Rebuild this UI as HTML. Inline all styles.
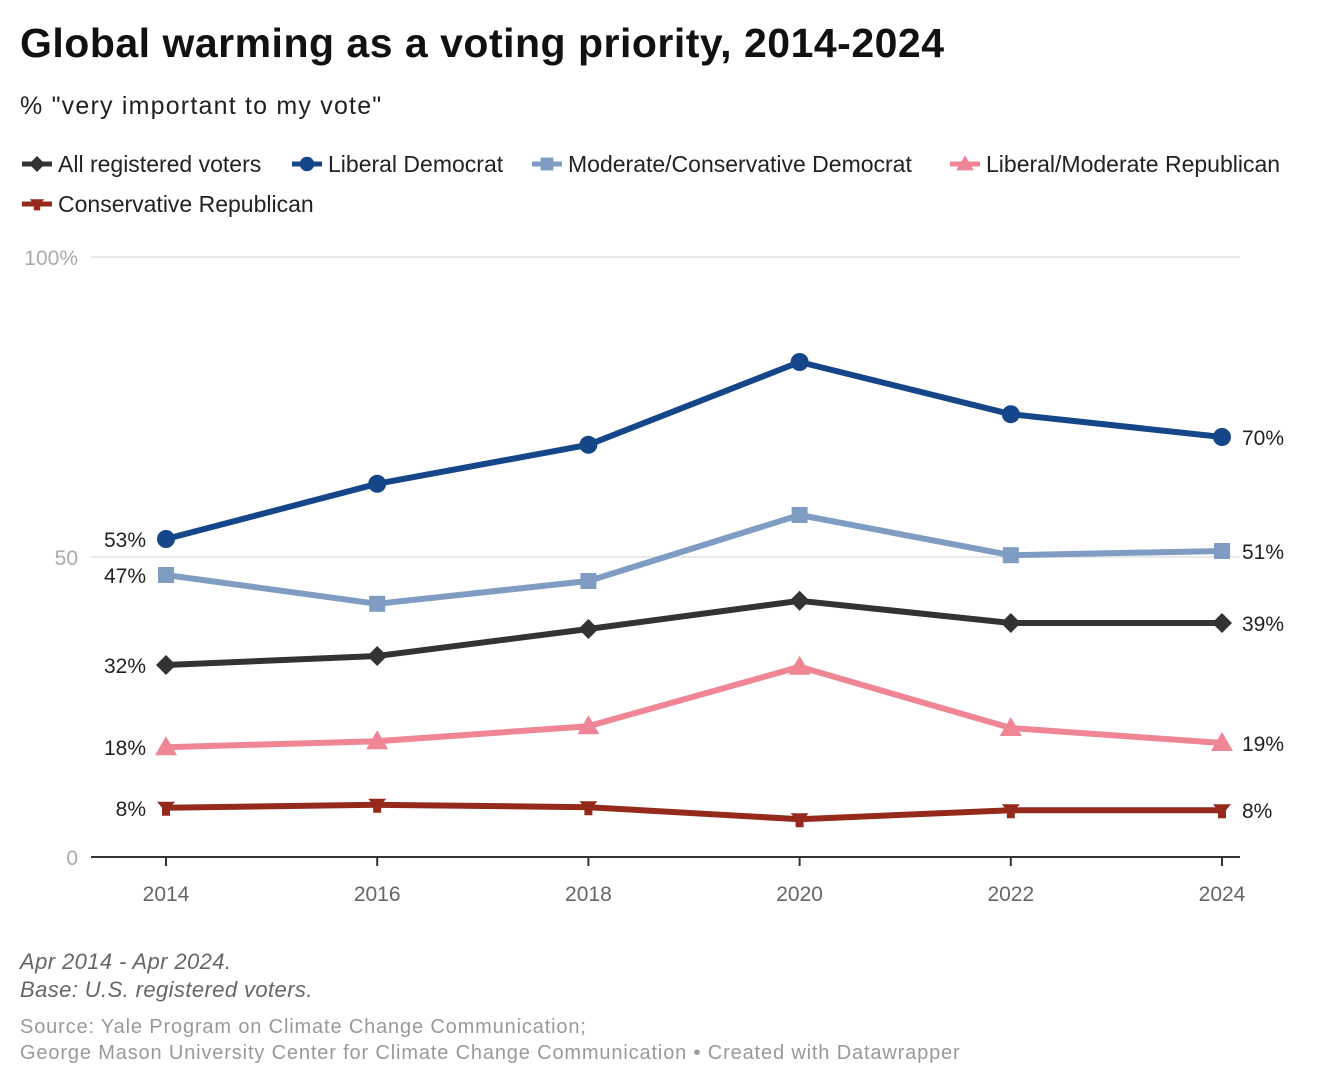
<!DOCTYPE html>
<html><head><meta charset="utf-8"><style>
body{margin:0;background:#fff;width:1340px;height:1086px;overflow:hidden;font-family:"Liberation Sans",sans-serif;}
.t{position:absolute;white-space:nowrap}
</style></head><body>
<div class="t" style="left:20px;top:20px;font-size:41px;font-weight:bold;color:#111;letter-spacing:0.5px">Global warming as a voting priority, 2014-2024</div>
<div class="t" style="left:20px;top:92px;font-size:25px;color:#222;letter-spacing:1.2px">% "very important to my vote"</div>
<svg id="chart" width="1340" height="1086" style="position:absolute;left:0;top:0"></svg>
<div class="t" style="left:20px;top:948px;font-size:22px;font-style:italic;color:#666;line-height:28px;letter-spacing:0.4px">Apr 2014 - Apr 2024.<br>Base: U.S. registered voters.</div>
<div class="t" style="left:20px;top:1014px;font-size:20px;color:#999;line-height:26px;letter-spacing:0.85px">Source: Yale Program on Climate Change Communication;<br>George Mason University Center for Climate Change Communication • Created with Datawrapper</div>
<script>
const years=[2014,2016,2018,2020,2022,2024];
const allVoters=[32,33.5,38,42.7,39,39];
const libDem=[53,62.2,68.7,82.5,73.8,70];
const modDem=[47,42.2,46,57,50.3,51];
const libRep=[18.3,19.3,21.8,31.7,21.5,19];
const consRep=[8.2,8.7,8.3,6.3,7.8,7.8];
const yTicks=[0,50,100];
const yTickLabels=["0","50","100%"];
const seriesNames=["All registered voters","Liberal Democrat","Moderate/Conservative Democrat","Liberal/Moderate Republican","Conservative Republican"];
const seriesData=[allVoters,libDem,modDem,libRep,consRep];
const colors=["#333333","#15468a","#7f9cc2","#ef8595","#952a1c"];
const markers=["diamond","circle","square","triangle","cross"];
const NS="http://www.w3.org/2000/svg";
const svg=document.getElementById('chart');
const x=y=>166+(y-2014)/10*1056;
const yS=v=>857-v*6;
function el(t,a,p){const e=document.createElementNS(NS,t);for(const k in a)e.setAttribute(k,a[k]);(p||svg).appendChild(e);return e;}
function marker(kind,cx,cy,c,s){
 let e;
 if(kind==="circle")e=el("circle",{cx,cy,r:9*s,fill:c});
 else if(kind==="square")e=el("rect",{x:cx-8*s,y:cy-8*s,width:16*s,height:16*s,fill:c});
 else if(kind==="diamond")e=el("polygon",{points:`${cx},${cy-10*s} ${cx+10*s},${cy} ${cx},${cy+10*s} ${cx-10*s},${cy}`,fill:c});
 else if(kind==="triangle")e=el("polygon",{points:`${cx},${cy-11*s} ${cx+11*s},${cy+8*s} ${cx-11*s},${cy+8*s}`,fill:c});
 else e=el("path",{d:`M${cx-9*s},${cy-6*s}L${cx+9*s},${cy-6*s}L${cx+4*s},${cy}L${cx+4*s},${cy+8*s}L${cx-4*s},${cy+8*s}L${cx-4*s},${cy}Z`,fill:c});
 return e;
}
yTicks.forEach((t,i)=>{
 if(t>0){const g=el("line",{x1:91,x2:1240,y1:yS(t),y2:yS(t),stroke:"#e2e2e2","stroke-width":1.5});
 
 }
 const tx=el("text",{x:78,y:yS(t)+8,"text-anchor":"end","font-size":21,fill:"#aaa"});tx.textContent=yTickLabels[i];
 
 
});
const ax=el("line",{x1:91,x2:1240,y1:857,y2:857,stroke:"#333","stroke-width":2});


years.forEach(yr=>{
 el("line",{x1:x(yr),x2:x(yr),y1:857,y2:866,stroke:"#333","stroke-width":2});
 const tx=el("text",{x:x(yr),y:901,"text-anchor":"middle","font-size":21,fill:"#666"});tx.textContent=yr;
 
 
});
const legPos=[[22,164],[292,164],[532,164],[950,164],[22,204]];
seriesNames.forEach((n,i)=>{
 const [lx,ly]=legPos[i];
 const g=el("g",{});
 
 
 el("line",{x1:lx,x2:lx+30,y1:ly,y2:ly,stroke:colors[i],"stroke-width":5},g);
 g.appendChild(marker(markers[i],lx+15,ly,colors[i],0.8));
 const t=el("text",{x:lx+36,y:ly+8,"font-size":23,fill:"#222"},g);t.textContent=n;
});
[4,3,0,2,1].forEach(i=>{
 const d=seriesData[i];
 const g=el("g",{});
 
 
 el("polyline",{points:d.map((v,j)=>x(years[j])+","+yS(v)).join(" "),fill:"none",stroke:colors[i],"stroke-width":6,"stroke-linejoin":"round"},g);
 d.forEach((v,j)=>{const m=marker(markers[i],x(years[j]),yS(v),colors[i],1);g.appendChild(m);
  
  });
 const f=el("text",{x:146,y:yS(d[0])+8,"text-anchor":"end","font-size":21,fill:"#222"});f.textContent=Math.round(d[0])+"%";
 
 
 const l=el("text",{x:1242,y:yS(d[5])+8,"font-size":21,fill:"#222"});l.textContent=Math.round(d[5])+"%";
 
 
});
</script>
</body></html>
